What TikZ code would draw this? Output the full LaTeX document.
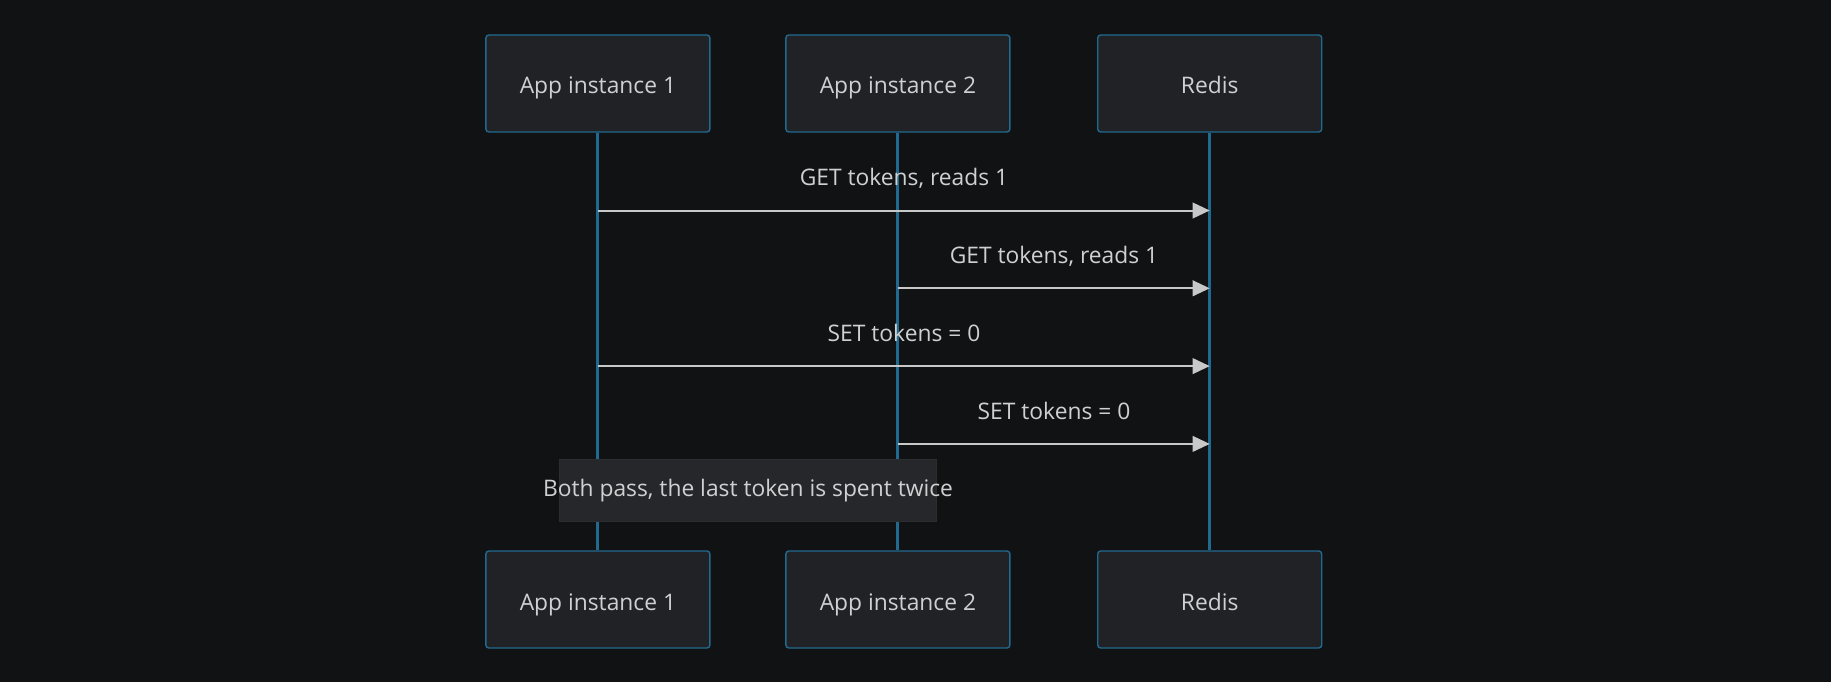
\documentclass[tikz,border=0pt]{standalone}
\usepackage{fontspec}
\setmainfont{Open Sans}
\usetikzlibrary{arrows.meta}
\definecolor{bg}{HTML}{111214}
\definecolor{boxfill}{HTML}{202225}
\definecolor{boxline}{HTML}{22698F}
\definecolor{life}{HTML}{22698F}
\definecolor{txt}{HTML}{CFD0D2}
\definecolor{msg}{HTML}{C8C8C8}
\definecolor{notefill}{HTML}{25272A}
\definecolor{noteline}{HTML}{2B2D30}
\begin{document}
\begin{tikzpicture}[x=1pt,y=-1pt,
  actor/.style={draw=boxline, line width=1.4pt, fill=boxfill, rounded corners=3pt,
    minimum width=224pt, minimum height=97pt, inner sep=0pt, text=txt,
    font=\fontsize{22.8}{27}\selectfont, text height=21pt, text depth=0pt},
  lifeline/.style={draw=life, line width=3pt},
  message/.style={draw=msg, line width=2pt, -{Triangle[length=17pt,width=15.6pt]}},
  msglabel/.style={anchor=base, text=txt, inner sep=0pt, font=\fontsize{22.8}{27}\selectfont},
  notebox/.style={fill=notefill, draw=noteline, line width=0.8pt, minimum width=377pt, minimum height=62pt, inner sep=0pt},
  notetext/.style={anchor=base, text=txt, inner sep=0pt, font=\fontsize{22.8}{27}\selectfont}
]
\fill[bg] (0,0) rectangle (1831,682);
\useasboundingbox (0,0) rectangle (1831,682);

% actors
\node[actor] (a1) at (597.9,83.5) {App instance 1};
\node[actor] (a2) at (897.9,83.5) {App instance 2};
\node[actor] (r)  at (1209.7,83.5) {Redis};
\node[actor] (a1b) at (597.9,599.5) {App instance 1};
\node[actor] (a2b) at (897.9,599.5) {App instance 2};
\node[actor] (rb)  at (1209.7,599.5) {Redis};

% lifelines
\draw[lifeline] (a1.south) -- (a1b.north);
\draw[lifeline] (a2.south) -- (a2b.north);
\draw[lifeline] (r.south) -- (rb.north);

% message end points
\coordinate (m1s) at (597.9,210.5);  \coordinate (m1e) at (1209.7,210.5);
\coordinate (m2s) at (897.9,288.3);  \coordinate (m2e) at (1209.7,288.3);
\coordinate (m3s) at (597.9,366.1);  \coordinate (m3e) at (1209.7,366.1);
\coordinate (m4s) at (897.9,443.9);  \coordinate (m4e) at (1209.7,443.9);

\draw[message] (m1s) -- (m1e);
\draw[message] (m2s) -- (m2e);
\draw[message] (m3s) -- (m3e);
\draw[message] (m4s) -- (m4e);

\node[msglabel] (l1) at (904,185.5) {GET tokens, reads 1};
\node[msglabel] (l2) at (1054,263.3) {GET tokens, reads 1};
\node[msglabel] (l3) at (904,341) {SET tokens = 0};
\node[msglabel] (l4) at (1054,419) {SET tokens = 0};

% note
\node[notebox] (note) at (748,490) {};
\node[notetext] (notet) at (748,496.7) {Both pass, the last token is spent twice};
\end{tikzpicture}
\end{document}
